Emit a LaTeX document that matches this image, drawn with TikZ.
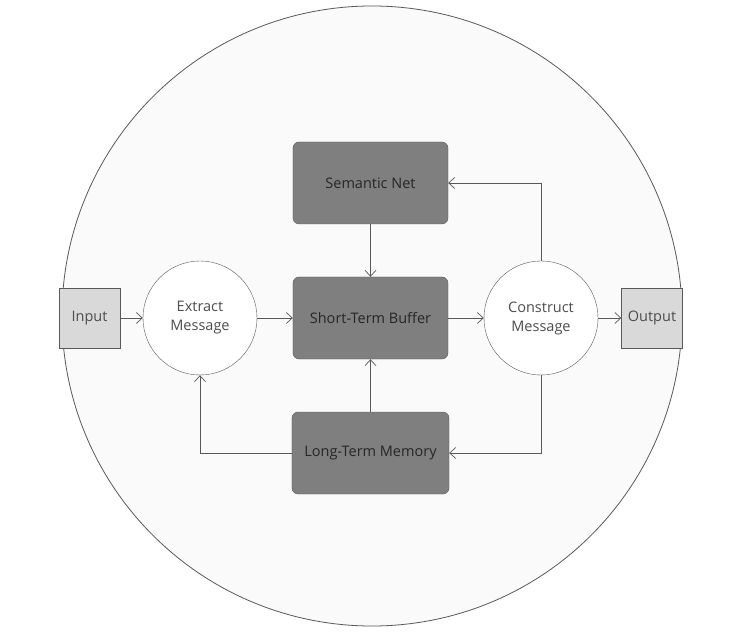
\documentclass[tikz,border=0pt]{standalone}
\usepackage{fontspec}
\setmainfont{Open Sans}
\usepackage{tikz}
\usetikzlibrary{arrows.meta}

\definecolor{linegray}{HTML}{595959}
\definecolor{textgray}{HTML}{4D4D4D}
\definecolor{darkbox}{HTML}{7F7F7F}
\definecolor{lightbox}{HTML}{D9D9D9}
\definecolor{bggray}{HTML}{FAFAFA}

\tikzset{
  store/.style={draw=linegray, fill=darkbox, rounded corners=6pt, minimum width=155pt, minimum height=82pt, text=black!85, font=\fontsize{14.5}{19}\selectfont},
  proc/.style={draw=linegray, fill=white, circle, minimum size=114pt, inner sep=0pt, align=center, text=textgray, font=\fontsize{14.5}{19}\selectfont},
  io/.style={draw=linegray, fill=lightbox, minimum width=61pt, minimum height=60pt, inner sep=0pt, text=textgray, font=\fontsize{14.5}{19}\selectfont},
  flow/.style={->, >={Straight Barb[length=6pt,width=11pt]}, draw=linegray, line width=0.7pt}
}

\begin{document}
\begin{tikzpicture}[x=1pt,y=1pt]
      \useasboundingbox (-370.5,318) rectangle (376.5,-319);
      \draw[linegray, fill=bggray, line width=0.8pt] (1.5,2) circle (310);

      \node [store] (stb) at (0,0) {Short-Term Buffer};
      \node [store, above of=stb, node distance=135pt] (sem) {Semantic Net};
      \node [store, below of=stb, node distance=135pt, minimum width=157pt] (ltm) {Long-Term Memory};
      \node [proc, left of=stb, node distance=170.5pt] (ext) {Extract\\Message};
      \node [proc, right of=stb, node distance=170.5pt] (con) {Construct\\Message};
      \node [io, left of=ext, node distance=110.5pt] (in) {Input};
      \node [io, right of=con, node distance=111pt] (out) {Output};

      \draw[flow] (in) -- (ext);
      \draw[flow] (ext) -- (stb);
      \draw[flow] (stb) -- (con);
      \draw[flow] (con) -- (out);
      \draw[flow] (sem) -- (stb);
      \draw[flow] (ltm) -- (stb);
      \draw[flow] (con.north) |- (sem.east);
      \draw[flow] (con.south) |- (ltm.east);
      \draw[flow] (ltm.west) -| (ext.south);
    \end{tikzpicture}
\end{document}
